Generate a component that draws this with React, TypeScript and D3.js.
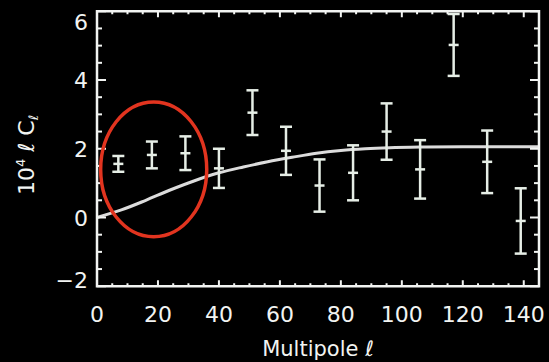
import React, { useEffect, useRef } from "react";
import * as d3 from "d3";

// band-power measurements (multipole, 10^4 l C_l, 1-sigma error)
const multipoles = [7, 18, 29, 40, 51, 62, 73, 84, 95, 106, 117, 128, 139];
const power = [1.56, 1.82, 1.87, 1.43, 3.05, 1.94, 0.93, 1.3, 2.5, 1.4, 5.02, 1.62, -0.1];
const errors = [0.23, 0.39, 0.49, 0.57, 0.65, 0.7, 0.76, 0.8, 0.82, 0.85, 0.9, 0.91, 0.95];

// model curve
const modelL = [0, 8, 16, 24, 32, 40, 48, 56, 64, 72, 80, 88, 96, 108, 120, 145];
const modelC = [0, 0.22, 0.5, 0.8, 1.07, 1.3, 1.47, 1.62, 1.75, 1.87, 1.95, 2.0, 2.03, 2.05, 2.06, 2.06];

const xTicks = [0, 20, 40, 60, 80, 100, 120, 140];
const yTicks = [-2, 0, 2, 4, 6];

// highlighted region (center l, center C, half width, half height)
const highlight = { l: 18.6, c: 1.4, dl: 17.4, dc: 1.96 };

export default function App() {
  const ref = useRef<SVGSVGElement>(null);

  useEffect(() => {
    if (!ref.current) return;
    const svg = d3.select(ref.current);
    svg.selectAll("*").remove();

    const width = 549;
    const height = 362;
    const left = 97, right = 539, top = 11.25, bottom = 286.25;
    const fg = "#f2f4f2";
    const font = "'DejaVu Sans', sans-serif";

    svg.append("rect").attr("width", width).attr("height", height).attr("fill", "#000");

    const x = d3.scaleLinear().domain([0, 145]).range([left, right]);
    const y = d3.scaleLinear().domain([-2, 6]).range([bottom, top]);

    // model curve
    const line = d3.line<number>()
      .x((_, i) => x(modelL[i]))
      .y((d) => y(d))
      .curve(d3.curveMonotoneX);
    svg.append("path")
      .datum(modelC)
      .attr("d", line)
      .attr("fill", "none")
      .attr("stroke", "#dcdcdc")
      .attr("stroke-width", 3);

    // error bars
    const g = svg.append("g").attr("stroke", "#e6eee6").attr("stroke-width", 2.5);
    multipoles.forEach((l, i) => {
      const cx = x(l);
      const y0 = y(power[i] - errors[i]);
      const y1 = y(power[i] + errors[i]);
      g.append("line").attr("x1", cx).attr("x2", cx).attr("y1", y0).attr("y2", y1);
      g.append("line").attr("x1", cx - 6).attr("x2", cx + 6).attr("y1", y0).attr("y2", y0);
      g.append("line").attr("x1", cx - 6).attr("x2", cx + 6).attr("y1", y1).attr("y2", y1);
      g.append("line").attr("x1", cx - 5).attr("x2", cx + 5).attr("y1", y(power[i])).attr("y2", y(power[i]));
    });

    // frame
    svg.append("rect")
      .attr("x", left).attr("y", top)
      .attr("width", right - left).attr("height", bottom - top)
      .attr("fill", "none").attr("stroke", fg).attr("stroke-width", 2.5);

    const ticks = svg.append("g").attr("stroke", fg).attr("stroke-width", 2);
    d3.range(-2, 6.01, 0.5).forEach((v) => {
      const len = v % 2 === 0 ? 9 : 5;
      ticks.append("line").attr("x1", left).attr("x2", left + len).attr("y1", y(v)).attr("y2", y(v));
      ticks.append("line").attr("x1", right).attr("x2", right - len).attr("y1", y(v)).attr("y2", y(v));
    });
    d3.range(0, 145.01, 5).forEach((v) => {
      const len = v % 20 === 0 ? 6 : 3;
      ticks.append("line").attr("x1", x(v)).attr("x2", x(v)).attr("y1", bottom).attr("y2", bottom - len);
      ticks.append("line").attr("x1", x(v)).attr("x2", x(v)).attr("y1", top).attr("y2", top + len);
    });

    // tick labels
    svg.selectAll(".xl").data(xTicks).enter().append("text")
      .attr("x", (d) => x(d)).attr("y", 322)
      .attr("text-anchor", "middle")
      .attr("fill", fg).attr("font-family", font).attr("font-size", 22)
      .text((d) => d);

    svg.selectAll(".yl").data(yTicks).enter().append("text")
      .attr("x", 88)
      .attr("y", (d) => Math.min(Math.max(y(d), 22), 280) + 8)
      .attr("text-anchor", "end")
      .attr("fill", fg).attr("font-family", font).attr("font-size", 22)
      .text((d) => (d < 0 ? "\u2212" + Math.abs(d) : d));

    // axis titles
    svg.append("text")
      .attr("x", 318).attr("y", 356)
      .attr("text-anchor", "middle")
      .attr("fill", fg).attr("font-family", font).attr("font-size", 21)
      .text("Multipole  \u2113");

    const yt = svg.append("text")
      .attr("transform", "translate(34,155) rotate(-90)")
      .attr("text-anchor", "middle")
      .attr("fill", fg).attr("font-family", font).attr("font-size", 22);
    yt.append("tspan").text("10");
    yt.append("tspan").attr("font-size", 13).attr("dy", -9).text("4");
    yt.append("tspan").attr("dy", 9).text(" \u2113 C");
    yt.append("tspan").attr("font-size", 13).attr("dy", 4).text("\u2113");

    // red ellipse annotation
    svg.append("ellipse")
      .attr("cx", x(highlight.l)).attr("cy", y(highlight.c))
      .attr("rx", x(highlight.dl) - x(0)).attr("ry", y(0) - y(highlight.dc))
      .attr("fill", "none").attr("stroke", "#e2341f").attr("stroke-width", 3.5);
  }, []);

  return (
    <svg ref={ref} width={549} height={362} style={{ position: "fixed", left: 0, top: 0 }}></svg>
  );
}
